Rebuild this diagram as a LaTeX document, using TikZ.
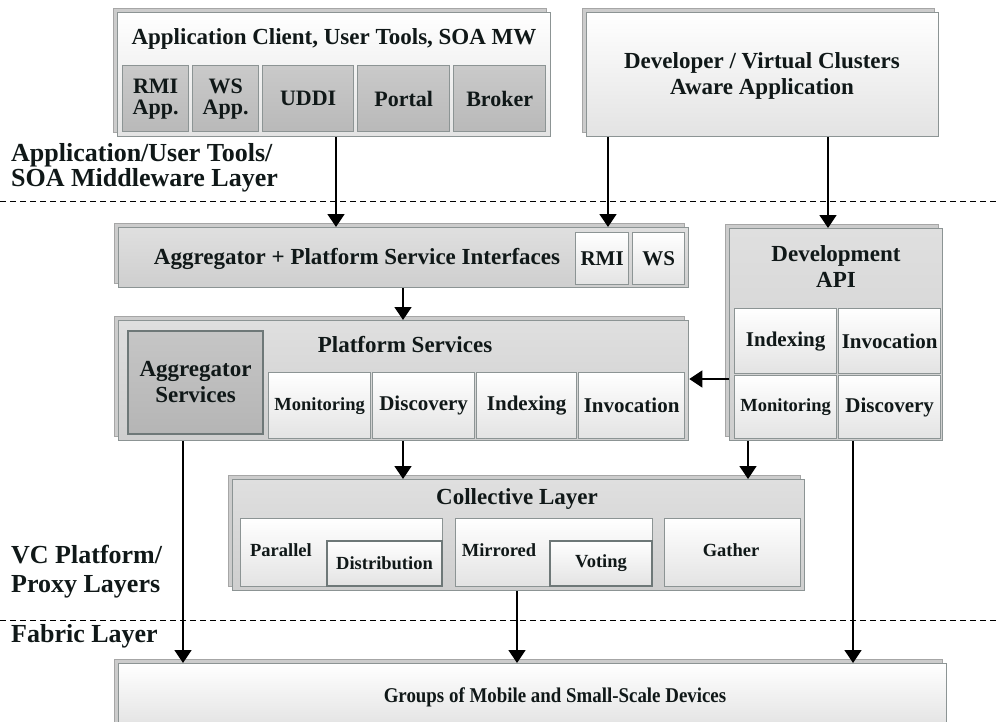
\documentclass[tikz,border=0pt]{standalone}
\usepackage{fontspec}
\setmainfont{Liberation Serif}
\usetikzlibrary{arrows.meta,shadows}
\definecolor{txtc}{HTML}{101818}
\definecolor{edgec}{HTML}{8C9494}
\definecolor{darkedge}{HTML}{6E7878}
\tikzset{
  base/.style={draw=edgec, line width=1.3pt, inner sep=0pt, anchor=north west, text=txtc, align=center},
  stack/.style={general shadow={fill=gray!40, draw=gray!70, line width=0.6pt, shadow xshift=-4pt, shadow yshift=4pt}},
  lightbox/.style={base, top color=white, bottom color=gray!22},
  innerbox/.style={lightbox, draw=darkedge, line width=2pt},
  midbox/.style={base, top color=gray!25, middle color=gray!48, bottom color=gray!38},
  darkbox/.style={base, top color=gray!42, middle color=gray!62, bottom color=gray!55},
  aggbox/.style={base, draw=darkedge, line width=2pt, top color=gray!45, middle color=gray!65, bottom color=gray!58},
  lbl/.style={anchor=base west, inner sep=0pt, text=txtc, font=\bfseries\fontsize{26}{30}\selectfont},
  ttl/.style={inner sep=0pt, text=txtc, font=\bfseries\fontsize{23}{26}\selectfont, align=center},
  sub/.style={font=\bfseries\fontsize{21}{23}\selectfont},
  subb/.style={font=\bfseries\fontsize{22}{22}\selectfont},
  small/.style={font=\bfseries\fontsize{18.5}{21}\selectfont},
  arr/.style={line width=1.5pt, -{Triangle[width=17pt,length=13pt]}},
  sep/.style={line width=1pt, dash pattern=on 6pt off 4pt},
}
\newcommand{\bx}[6]{% style, name, x1, y1, x2, y2
  \node[#1, minimum width={(#5-#3)*1pt}, minimum height={(#6-#4)*1pt}] (#2) at (#3,#4) {};}
\begin{document}
\begin{tikzpicture}[x=1pt,y=-1pt]
\useasboundingbox (0,0) rectangle (998,722);
% separators
\draw[sep] (0,202) -- (998,202);
\draw[sep] (0,620) -- (998,620);
% layer labels
\node[lbl] (lab1) at (11,162) {Application/User Tools/};
\node[lbl] (lab2) at (11,187) {SOA Middleware Layer};
\node[lbl] (lab3) at (11,563) {VC Platform/};
\node[lbl] (lab4) at (11,592) {Proxy Layers};
\node[lbl] (lab5) at (11,642) {Fabric Layer};
% top left
\bx{lightbox,stack}{A}{117}{12}{550}{136}
\node[ttl] (Atitle) at (334,39) {Application Client, User Tools, SOA MW};
\bx{darkbox}{rmiapp}{122}{65}{188}{131}
\node[ttl,subb] at (rmiapp.center) {RMI\\[-1pt]App.};
\bx{darkbox}{wsapp}{192}{65}{258}{131}
\node[ttl,subb] at (wsapp.center) {WS\\[-1pt]App.};
\bx{darkbox}{uddi}{262}{65}{353}{131}
\node[ttl,subb] at (uddi.center) {UDDI};
\bx{darkbox}{portal}{357}{65}{449}{131}
\node[ttl,subb] at (portal.center) {Portal};
\bx{darkbox}{broker}{453}{65}{545}{131}
\node[ttl,subb] at (broker.center) {Broker};
% top right
\bx{lightbox,stack}{B}{586}{12}{938}{136}
\node[ttl] at (762,76) {Developer / Virtual Clusters\\Aware Application};
% aggregator interfaces
\bx{midbox,stack}{agg}{118}{227}{688}{287}
\node[ttl] at (357,259) {Aggregator + Platform Service Interfaces};
\bx{lightbox}{rmi}{575}{232}{628}{284}
\node[ttl,sub] at (rmi.center) {RMI};
\bx{lightbox}{ws}{632}{232}{684}{284}
\node[ttl,sub] at (ws.center) {WS};
% platform services
\bx{midbox,stack}{ps}{118}{320}{688}{440}
\node[ttl] at (405,345) {Platform Services};
\bx{aggbox}{aggserv}{127}{330}{262}{433}
\node[ttl] at (aggserv.center) {Aggregator\\Services};
\bx{lightbox}{psmon}{268}{372}{370}{438}
\node[ttl,small] at (psmon.center) {Monitoring};
\bx{lightbox}{psdis}{372}{372}{474}{438}
\node[ttl,sub] at (psdis.center) {Discovery};
\bx{lightbox}{psidx}{476}{372}{576}{438}
\node[ttl,sub] at (psidx.center) {Indexing};
\bx{lightbox}{psinv}{578}{372}{684}{438}
\node[ttl,sub] at (psinv.center) {Invocation};
% development api
\bx{midbox,stack}{dev}{729}{228}{942}{440}
\node[ttl] at (836,267) {Development\\API};
\bx{lightbox}{dvidx}{734}{308}{836}{373}
\node[ttl,sub] at (dvidx.center) {Indexing};
\bx{lightbox}{dvinv}{838}{308}{940}{373}
\node[ttl,sub] at (dvinv.center) {Invocation};
\bx{lightbox}{dvmon}{734}{375}{836}{438}
\node[ttl,small] at (dvmon.center) {Monitoring};
\bx{lightbox}{dvdis}{838}{375}{940}{438}
\node[ttl,sub] at (dvdis.center) {Discovery};
% collective layer
\bx{midbox,stack}{coll}{232}{479}{804}{590}
\node[ttl] at (517,499) {Collective Layer};
\bx{lightbox}{par}{240}{518}{442}{586}
\node[ttl,small] at (281,550) {Parallel};
\bx{innerbox}{dist}{326}{540}{441}{585}
\node[ttl,small] at (dist.center) {Distribution};
\bx{lightbox}{mir}{455}{518}{652}{586}
\node[ttl,small] at (499,550) {Mirrored};
\bx{innerbox}{vot}{549}{540}{651}{585}
\node[ttl,small] at (vot.center) {Voting};
\bx{lightbox}{gat}{664}{518}{800}{586}
\node[ttl,small] at (731,550) {Gather};
% fabric
\bx{lightbox,stack}{grp}{118}{663}{946}{726}
\node[ttl,font=\bfseries\fontsize{21}{23}\selectfont] at (555,697) {\scalebox{0.9}[1]{Groups of Mobile and Small-Scale Devices}};
% connector x positions
\coordinate (c1) at (336,0);
\coordinate (c2) at (608,0);
\coordinate (c3) at (828,0);
\coordinate (c4) at (403,0);
\coordinate (c5) at (748,0);
\coordinate (c6) at (183,0);
\coordinate (c7) at (853,0);
\coordinate (c8) at (517,0);
\coordinate (r1) at (0,379);
\draw[arr] (A.south -| c1) -- (agg.north -| c1);
\draw[arr] (B.south -| c2) -- (agg.north -| c2);
\draw[arr] (B.south -| c3) -- (dev.north -| c3);
\draw[arr] (agg.south -| c4) -- (ps.north -| c4);
\draw[arr] (dev.west |- r1) -- (ps.east |- r1);
\draw[arr] (ps.south -| c4) -- (coll.north -| c4);
\draw[arr] (dev.south -| c5) -- (coll.north -| c5);
\draw[arr] (ps.south -| c6) -- (grp.north -| c6);
\draw[arr] (dev.south -| c7) -- (grp.north -| c7);
\draw[arr] (coll.south -| c8) -- (grp.north -| c8);
\end{tikzpicture}
\end{document}
